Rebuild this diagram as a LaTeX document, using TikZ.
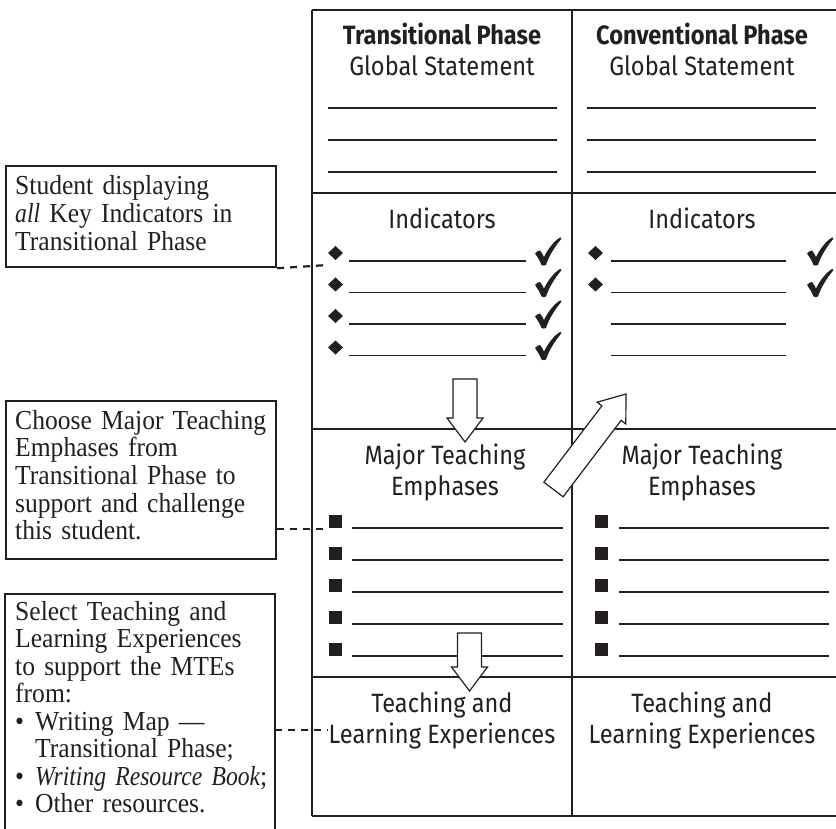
\documentclass[tikz,border=0pt]{standalone}
\usepackage{fontspec}
\setmainfont{Liberation Serif}
\newfontfamily\boxfont{Liberation Serif}[FakeStretch=0.93]
\newfontfamily\boxit{Liberation Serif}[FakeStretch=0.86]
\newfontfamily\tabfont{Fira Sans}[FakeStretch=0.89]
\definecolor{ink}{HTML}{231F20}
\newcommand{\bxit}[1]{{\boxit\itshape #1}}
\newcommand{\bul}{\makebox[20pt][l]{•}}
\tikzset{
  tline/.style={line width=1.6pt, draw=ink},
  wline/.style={line width=1.3pt, draw=ink},
  boxframe/.style={draw=ink, line width=2.2pt, inner sep=0pt, anchor=north west},
  dashline/.style={draw=ink, line width=2.2pt, dash pattern=on 7pt off 6pt},
  bigarrow/.style={draw=ink, line width=1.2pt, fill=white, line join=miter},
  tabtext/.style={font=\tabfont\fontsize{26.5}{31}\selectfont, text=ink, inner sep=0pt, anchor=base},
  tabbold/.style={tabtext, font=\tabfont\bfseries\fontsize{26.5}{31}\selectfont},
  boxtext/.style={font=\boxfont\fontsize{27.5}{27.7}\selectfont, text=ink, inner sep=0pt, anchor=base west, align=left, text width=320pt},
  diam/.pic={\fill[ink] (-7.5,0) -- (0,-7) -- (7.5,0) -- (0,7) -- cycle;},
  sq/.pic={\fill[ink] (-6.5,-6.5) rectangle (6.5,6.5);},
  checkpic/.pic={\fill[ink] (0,-11.5) .. controls (2,-13.5) and (3.5,-14.5) .. (5,-14.5)
     .. controls (6.5,-13.5) and (7.5,-10.5) .. (9,-8)
     .. controls (13,-16) and (19,-24) .. (25,-27.5)
     .. controls (26,-27.8) and (26.8,-27.2) .. (26.2,-26)
     .. controls (19.5,-18) and (14,-9) .. (11,0)
     .. controls (10,0.8) and (7.5,0.8) .. (6.5,0)
     .. controls (5,-4) and (2.5,-8) .. (0,-11.5) -- cycle;}
}
\begin{document}
\begin{tikzpicture}[x=1pt,y=-1pt]
\useasboundingbox (0,0) rectangle (836,829);
% table
\foreach \yy in {10,193,429,677,816} \draw[tline] (312,\yy) -- (836,\yy);
\draw[tline] (312,10) -- (312,816);
\draw[tline] (572,10) -- (572,816);
% global statement lines
\foreach \yy in {108,140,172} {
  \draw[wline] (328,\yy) -- (557,\yy);
  \draw[wline] (587,\yy) -- (816,\yy);
}
% indicators
\foreach \yy in {261,292.5,324,355.5} {
  \draw[wline] (349,\yy) -- (526,\yy);
  \draw[wline] (611,\yy) -- (786,\yy);
  \pic at (335.5,\yy-8) {diam};
  \pic at (535,\yy+4) {checkpic};
}
\foreach \yy in {261,292.5} {
  \pic at (595.5,\yy-8) {diam};
  \pic at (807,\yy+4) {checkpic};
}
% MTE
\foreach \yy in {528,560,592,624,656} {
  \draw[wline] (352,\yy) -- (563,\yy);
  \draw[wline] (619,\yy) -- (829,\yy);
  \pic at (335.5,\yy-7) {sq};
  \pic at (601.5,\yy-7) {sq};
}
% block arrows
\draw[bigarrow] (453,379) -- (477,379) -- (477,418) -- (483,418) -- (465,442) -- (447,418) -- (453,418) -- cycle;
\draw[bigarrow] (457.5,633) -- (481.5,633) -- (481.5,667) -- (487.5,667) -- (469.5,691) -- (451.5,667) -- (457.5,667) -- cycle;
\draw[bigarrow] (543.9,482.2) -- (601.9,405.8) -- (597.2,402.2) -- (626,394) -- (625.8,424.0) -- (621.1,420.4) -- (563.1,496.8) -- cycle;
% table texts
\node[tabbold] (h1) at (442,45) {Transitional Phase};
\node[tabtext] (g1) at (442,76) {Global Statement};
\node[tabbold] (h2) at (702,45) {Conventional Phase};
\node[tabtext] (g2) at (702,76) {Global Statement};
\node[tabtext] (i1) at (442,229) {Indicators};
\node[tabtext] (i2) at (702,229) {Indicators};
\node[tabtext] (m1a) at (445,464) {Major Teaching};
\node[tabtext] (m1b) at (445,495) {Emphases};
\node[tabtext] (m2a) at (702,464) {Major Teaching};
\node[tabtext] (m2b) at (702,495) {Emphases};
\node[tabtext] (t1a) at (442,712) {Teaching and};
\node[tabtext] (t1b) at (442,743) {Learning Experiences};
\node[tabtext] (t2a) at (702,712) {Teaching and};
\node[tabtext] (t2b) at (702,743) {Learning Experiences};
% left boxes
\node[boxframe, minimum width=270pt, minimum height=101pt] (b1) at (5,165) {};
\node[boxtext] (b1t) at (15,195) {Student displaying\\\bxit{all} Key Indicators in\\Transitional Phase};
\node[boxframe, minimum width=270pt, minimum height=158pt] (b2) at (5,400) {};
\node[boxtext] (b2t) at (15,429) {Choose Major Teaching\\Emphases from\\Transitional Phase to\\support and challenge\\this student.};
\draw[draw=ink, line width=2.2pt] (5,829) -- (5,594) -- (275,594) -- (275,829);
\node[boxtext, font=\boxfont\fontsize{27.5}{27.5}\selectfont] (b3t) at (15,620) {Select Teaching and\\Learning Experiences\\to support the MTEs\\from:\\\bul Writing Map —\\\hspace*{20pt}Transitional Phase;\\\bul\bxit{Writing Resource Book};\\\bul Other resources.};
% dashed connectors
\coordinate (c1) at (328,265);
\coordinate (c2) at (328,529);
\coordinate (c3) at (328,730);
\coordinate (b3e) at (275,730);
\draw[dashline] (b1.south east) -- (c1);
\draw[dashline] (b2.east |- c2) -- (c2);
\draw[dashline] (b3e) -- (c3);
\end{tikzpicture}
\end{document}
